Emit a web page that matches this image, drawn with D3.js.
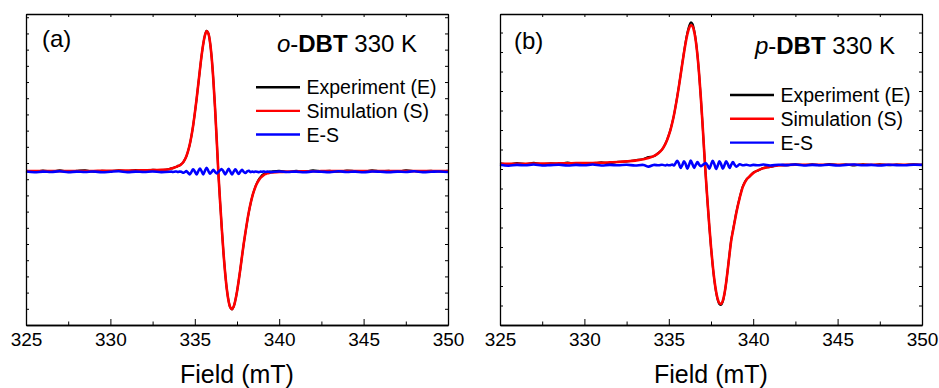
<!DOCTYPE html>
<html>
<head>
<meta charset="utf-8">
<script src="https://cdn.jsdelivr.net/npm/d3@7"></script>
<style>
  body { margin: 0; background: #fff; }
  svg { display: block; }
  text { font-family: "Liberation Sans", Arial, sans-serif; fill: #000; }
</style>
</head>
<body>
<svg id="chart" width="939" height="388"></svg>
<script>
// ---------- EPR spectra of o-DBT and p-DBT at 330 K (field in mT, intensity in arb. units) ----------

const fieldsA = [
  325, 325.5, 326, 326.5, 327, 327.5, 328, 328.5, 329, 329.5, 330, 330.5, 331, 331.5, 332, 332.5, 333, 333.5,
  333.6, 333.7, 333.8, 333.9, 334.0, 334.1, 334.2, 334.3, 334.4, 334.5, 334.6, 334.7, 334.8, 334.9,
  335.0, 335.1, 335.2, 335.3, 335.4, 335.5, 335.6, 335.7, 335.8, 335.9,
  336.0, 336.1, 336.2, 336.3, 336.4, 336.5, 336.6, 336.7, 336.8, 336.9,
  337.0, 337.1, 337.2, 337.3, 337.4, 337.5, 337.6, 337.7, 337.8, 337.9,
  338.0, 338.1, 338.2, 338.3, 338.4, 338.5, 338.6, 338.7, 338.8, 338.9,
  339.0, 339.1, 339.2, 339.3, 339.4,
  339.5, 340, 340.5, 341, 341.5, 342, 342.5, 343, 343.5, 344, 344.5, 345, 345.5, 346, 346.5, 347, 347.5, 348, 348.5, 349, 349.5, 350
];
const experimentA = [
  9.53, 9.46, 9.54, 9.48, 9.55, 9.47, 9.52, 9.56, 9.46, 9.53, 9.49, 9.55, 9.50, 9.57, 9.52, 9.58, 9.57, 9.64,
  9.68, 9.67, 9.74, 9.75, 9.83, 9.84, 9.94, 10.02, 10.20, 10.41,
  10.74, 11.13, 11.67, 12.29, 13.07, 13.89, 14.81, 15.72, 16.62, 17.34,
  17.89, 18.16, 18.02, 17.46, 16.51, 15.11, 13.39, 11.39, 9.33, 7.58,
  5.95, 4.44, 3.20, 2.18, 1.50, 1.08, 0.96, 1.12, 1.52, 2.05,
  2.74, 3.47, 4.27, 5.02, 5.70, 6.36, 6.95, 7.47, 7.92, 8.27,
  8.58, 8.82, 9.01, 9.15, 9.27, 9.33, 9.40, 9.42, 9.47,
  9.48, 9.53, 9.45, 9.52, 9.47, 9.55, 9.49, 9.53, 9.46, 9.54, 9.50, 9.47, 9.56, 9.49, 9.52, 9.46, 9.55, 9.51, 9.48, 9.53, 9.47, 9.52
];
const simulationA = [
  9.50, 9.50, 9.50, 9.50, 9.50, 9.50, 9.51, 9.51, 9.51, 9.52, 9.52, 9.53, 9.53, 9.54, 9.55, 9.56, 9.58, 9.62,
  9.66, 9.69, 9.72, 9.76, 9.81, 9.85, 9.92, 10.03, 10.19, 10.42,
  10.73, 11.14, 11.66, 12.30, 13.06, 13.90, 14.80, 15.73, 16.61, 17.35,
  17.88, 18.14, 18.01, 17.47, 16.50, 15.12, 13.38, 11.40, 9.32, 7.59,
  5.94, 4.45, 3.19, 2.19, 1.49, 1.09, 0.98, 1.13, 1.51, 2.06,
  2.73, 3.48, 4.26, 5.03, 5.72, 6.38, 6.97, 7.48, 7.91, 8.26,
  8.55, 8.77, 8.95, 9.09, 9.19, 9.27, 9.32, 9.36, 9.39,
  9.41, 9.45, 9.47, 9.48, 9.49, 9.49, 9.50, 9.50, 9.50, 9.50, 9.50, 9.50, 9.50, 9.50, 9.50, 9.50, 9.50, 9.50, 9.50, 9.50, 9.50, 9.50
];
const residualA = [
  9.48, 9.43, 9.47, 9.45, 9.49, 9.44, 9.47, 9.45, 9.48, 9.43, 9.46, 9.49, 9.44, 9.47, 9.45, 9.48, 9.44, 9.46,
  9.47, 9.45, 9.46, 9.48, 9.45, 9.47, 9.46, 9.40, 9.44, 9.50,
  9.40, 9.30, 9.45, 9.62, 9.48, 9.30, 9.48, 9.66, 9.50, 9.30,
  9.52, 9.70, 9.52, 9.34, 9.45, 9.58, 9.45, 9.36, 9.46, 9.55,
  9.62, 9.48, 9.30, 9.46, 9.64, 9.48, 9.30, 9.46, 9.62, 9.46,
  9.32, 9.47, 9.58, 9.45, 9.38, 9.48, 9.52, 9.44, 9.47, 9.45,
  9.48, 9.46, 9.44, 9.47, 9.46, 9.48, 9.45, 9.47, 9.46,
  9.44, 9.48, 9.45, 9.47, 9.43, 9.48, 9.46, 9.44, 9.49, 9.45, 9.47, 9.43, 9.48, 9.46, 9.44, 9.47, 9.45, 9.49, 9.44, 9.46, 9.48, 9.45
];

const fieldsB = [
  325, 325.5, 326, 326.5, 327, 327.5, 328, 328.5, 329, 329.5, 330, 330.5, 331, 331.5, 332, 332.5, 333, 333.5,
  333.8, 334.1, 334.4, 334.6, 334.8,
  334.9, 335.0, 335.1, 335.2, 335.3, 335.4, 335.5, 335.6, 335.7, 335.8,
  335.9, 336.0, 336.1, 336.2, 336.3, 336.4, 336.5, 336.6, 336.7, 336.8,
  336.9, 337.0, 337.1, 337.2, 337.3, 337.4, 337.5, 337.6, 337.7, 337.8,
  337.9, 338.0, 338.1, 338.2, 338.3, 338.4, 338.5, 338.6, 338.7, 338.8,
  338.9, 339.0,
  339.2, 339.4, 339.6, 339.8, 340.0, 340.3, 340.6, 341.0, 341.5,
  342, 342.5, 343, 343.5, 344, 344.5, 345, 345.5, 346, 346.5, 347, 347.5, 348, 348.5, 349, 349.5, 350
];
const experimentB = [
  8.30, 8.24, 8.31, 8.26, 8.32, 8.25, 8.30, 8.27, 8.33, 8.26, 8.31, 8.28, 8.35, 8.30, 8.37, 8.38, 8.45, 8.52,
  8.62, 8.65, 8.84, 8.99, 9.31,
  9.50, 9.75, 10.02, 10.37, 10.74, 11.22, 11.72, 12.26, 12.84, 13.43,
  14.00, 14.55, 15.00, 15.33, 15.52, 15.46, 15.14, 14.60, 13.83, 12.82,
  11.62, 10.28, 8.84, 7.48, 6.23, 5.05, 3.98, 3.05, 2.27, 1.68,
  1.27, 1.06, 1.03, 1.20, 1.60, 2.18, 2.91, 3.68, 4.38, 4.86,
  5.32, 5.78,
  6.54, 7.15, 7.47, 7.62, 7.82, 7.92, 8.06, 8.10, 8.20,
  8.19, 8.25, 8.20, 8.24, 8.19, 8.26, 8.21, 8.23, 8.18, 8.25, 8.20, 8.24, 8.19, 8.23, 8.21, 8.25, 8.20
];
const simulationB = [
  8.27, 8.27, 8.27, 8.27, 8.28, 8.28, 8.28, 8.29, 8.29, 8.30, 8.30, 8.31, 8.32, 8.34, 8.36, 8.39, 8.43, 8.50,
  8.56, 8.66, 8.82, 9.00, 9.29,
  9.49, 9.73, 10.01, 10.35, 10.75, 11.20, 11.70, 12.24, 12.82, 13.40,
  13.96, 14.48, 14.91, 15.22, 15.37, 15.33, 15.06, 14.56, 13.81, 12.83,
  11.64, 10.30, 8.85, 7.50, 6.25, 5.08, 4.01, 3.08, 2.31, 1.73,
  1.33, 1.12, 1.09, 1.25, 1.62, 2.20, 2.90, 3.65, 4.35, 4.82,
  5.29, 5.75,
  6.52, 7.12, 7.45, 7.64, 7.79, 7.94, 8.04, 8.12, 8.18,
  8.21, 8.22, 8.22, 8.22, 8.22, 8.22, 8.22, 8.22, 8.22, 8.22, 8.22, 8.22, 8.22, 8.22, 8.22, 8.22, 8.22
];
const residualB = [
  8.22, 8.17, 8.21, 8.19, 8.23, 8.18, 8.20, 8.22, 8.18, 8.21, 8.19, 8.23, 8.18, 8.21, 8.19, 8.22, 8.18, 8.21,
  8.12, 8.21, 8.19, 8.22, 8.18,
  8.21, 8.19, 8.20, 8.23, 8.18, 8.30, 8.42, 8.28, 8.05, 8.20,
  8.40, 8.25, 8.02, 8.22, 8.43, 8.25, 8.06, 8.22, 8.36, 8.22,
  8.15, 8.20, 8.26, 8.30, 8.18, 8.02, 8.22, 8.42, 8.25, 8.00,
  8.18, 8.40, 8.24, 8.02, 8.20, 8.40, 8.25, 8.05, 8.22, 8.36,
  8.22, 8.12,
  8.24, 8.19, 8.22, 8.18, 8.21, 8.19, 8.23, 8.18, 8.22,
  8.20, 8.23, 8.18, 8.21, 8.19, 8.22, 8.18, 8.21, 8.23, 8.19, 8.21, 8.18, 8.22, 8.20, 8.19, 8.22, 8.21
];

// Axis ticks and labels
const fieldTicks = [325, 330, 335, 340, 345, 350];
const fieldMinorTicks = [327.5, 332.5, 337.5, 342.5, 347.5];
const intensityTicksA = [0, 1, 2, 3, 4, 5, 6, 7, 8, 9, 10, 11, 12, 13, 14, 15, 16, 17, 18, 19];
const intensityTicksB = [0, 1, 2, 3, 4, 5, 6, 7, 8, 9, 10, 11, 12, 13, 14, 15];
const seriesNames = ["Experiment (E)", "Simulation (S)", "E-S"];
const panelTags = ["(a)", "(b)"];
const isomerPrefixes = ["o", "p"];
const compoundName = "DBT";
const temperatureLabel = " 330 K";
const axisTitle = "Field (mT)";

// ---------- layout ----------
const svg = d3.select("#chart");
svg.append("rect").attr("width", 939).attr("height", 388).attr("fill", "#fff");

const plotTop = 14, plotBottom = 325;
const seriesColors = ["#000000", "#ff0000", "#0000ff"];
const seriesWidths = [2, 2.6, 2.6];

const panels = [
  { left: 26, right: 448, yMax: 19.2, yTicks: intensityTicksA,
    fields: fieldsA, series: [experimentA, simulationA, residualA],
    tag: panelTags[0], prefix: isomerPrefixes[0],
    tagX: 42, tagY: 47, titleEnd: 417, titleY: 52, legendY: 87.3, legendStep: 23.6 },
  { left: 500, right: 922, yMax: 15.95, yTicks: intensityTicksB,
    fields: fieldsB, series: [experimentB, simulationB, residualB],
    tag: panelTags[1], prefix: isomerPrefixes[1],
    tagX: 514, tagY: 49, titleEnd: 895, titleY: 54, legendY: 95, legendStep: 23.8 }
];

panels.forEach(p => {
  const g = svg.append("g");
  const x = d3.scaleLinear().domain([325, 350]).range([p.left, p.right]);
  const y = d3.scaleLinear().domain([0, p.yMax]).range([plotBottom, plotTop]);

  // spectra: experiment, simulation, residual on top
  p.series.forEach((vals, i) => {
    const pts = p.fields.map((f, j) => [f, vals[j]]);
    const line = d3.line()
      .x(d => x(d[0]))
      .y(d => y(d[1]))
      .curve(d3.curveCatmullRom.alpha(0.5));
    g.append("path")
      .attr("d", line(pts))
      .attr("fill", "none")
      .attr("stroke", seriesColors[i])
      .attr("stroke-width", seriesWidths[i])
      .attr("stroke-linejoin", "round");
  });

  // bottom axis: major ticks with labels, minor ticks inward
  const bottomAxis = d3.axisBottom(x).tickValues(fieldTicks).tickSizeInner(-6).tickSizeOuter(0).tickPadding(8).tickFormat(d3.format("d"));
  const gb = g.append("g").attr("transform", `translate(0,${plotBottom})`).call(bottomAxis);
  gb.selectAll("text").attr("font-size", 19).style("font-family", '"Liberation Sans", Arial, sans-serif');
  g.append("g").attr("transform", `translate(0,${plotBottom})`)
    .call(d3.axisBottom(x).tickValues(fieldMinorTicks).tickSizeInner(-3.5).tickSizeOuter(0).tickFormat(""));

  // top axis: short inward ticks
  g.append("g").attr("transform", `translate(0,${plotTop})`)
    .call(d3.axisTop(x).tickValues(fieldTicks.concat(fieldMinorTicks)).tickSizeInner(-3).tickSizeOuter(0).tickFormat(""));

  // left and right axes: inward ticks, no labels
  g.append("g").attr("transform", `translate(${p.left},0)`)
    .call(d3.axisLeft(y).tickValues(p.yTicks).tickSizeInner(-3).tickSizeOuter(0).tickFormat(""));
  g.append("g").attr("transform", `translate(${p.right},0)`)
    .call(d3.axisRight(y).tickValues(p.yTicks).tickSizeInner(-3).tickSizeOuter(0).tickFormat(""));

  g.selectAll(".domain").attr("stroke", "#000").attr("stroke-width", 1.3);
  g.selectAll(".tick line").attr("stroke", "#000").attr("stroke-width", 1);

  // axis title
  g.append("text")
    .attr("x", (p.left + p.right) / 2).attr("y", 383)
    .attr("text-anchor", "middle").attr("font-size", 25)
    .text(axisTitle);

  // panel tag
  g.append("text").attr("x", p.tagX).attr("y", p.tagY).attr("font-size", 24).text(p.tag);

  // compound / temperature title
  const t = g.append("text")
    .attr("x", p.titleEnd).attr("y", p.titleY)
    .attr("text-anchor", "end").attr("font-size", 24)
    .style("white-space", "pre");
  t.append("tspan").attr("font-style", "italic").text(p.prefix);
  t.append("tspan").text("-");
  t.append("tspan").attr("font-weight", "bold").text(compoundName);
  t.append("tspan").text(temperatureLabel);

  // legend
  seriesNames.forEach((name, i) => {
    const ly = p.legendY + i * p.legendStep;
    g.append("line")
      .attr("x1", p.left + 230).attr("x2", p.left + 274)
      .attr("y1", ly).attr("y2", ly)
      .attr("stroke", seriesColors[i]).attr("stroke-width", 2.4);
    g.append("text")
      .attr("x", p.left + 280.5).attr("y", ly + 7)
      .attr("font-size", 19.5)
      .text(name);
  });
});
</script>
</body>
</html>
